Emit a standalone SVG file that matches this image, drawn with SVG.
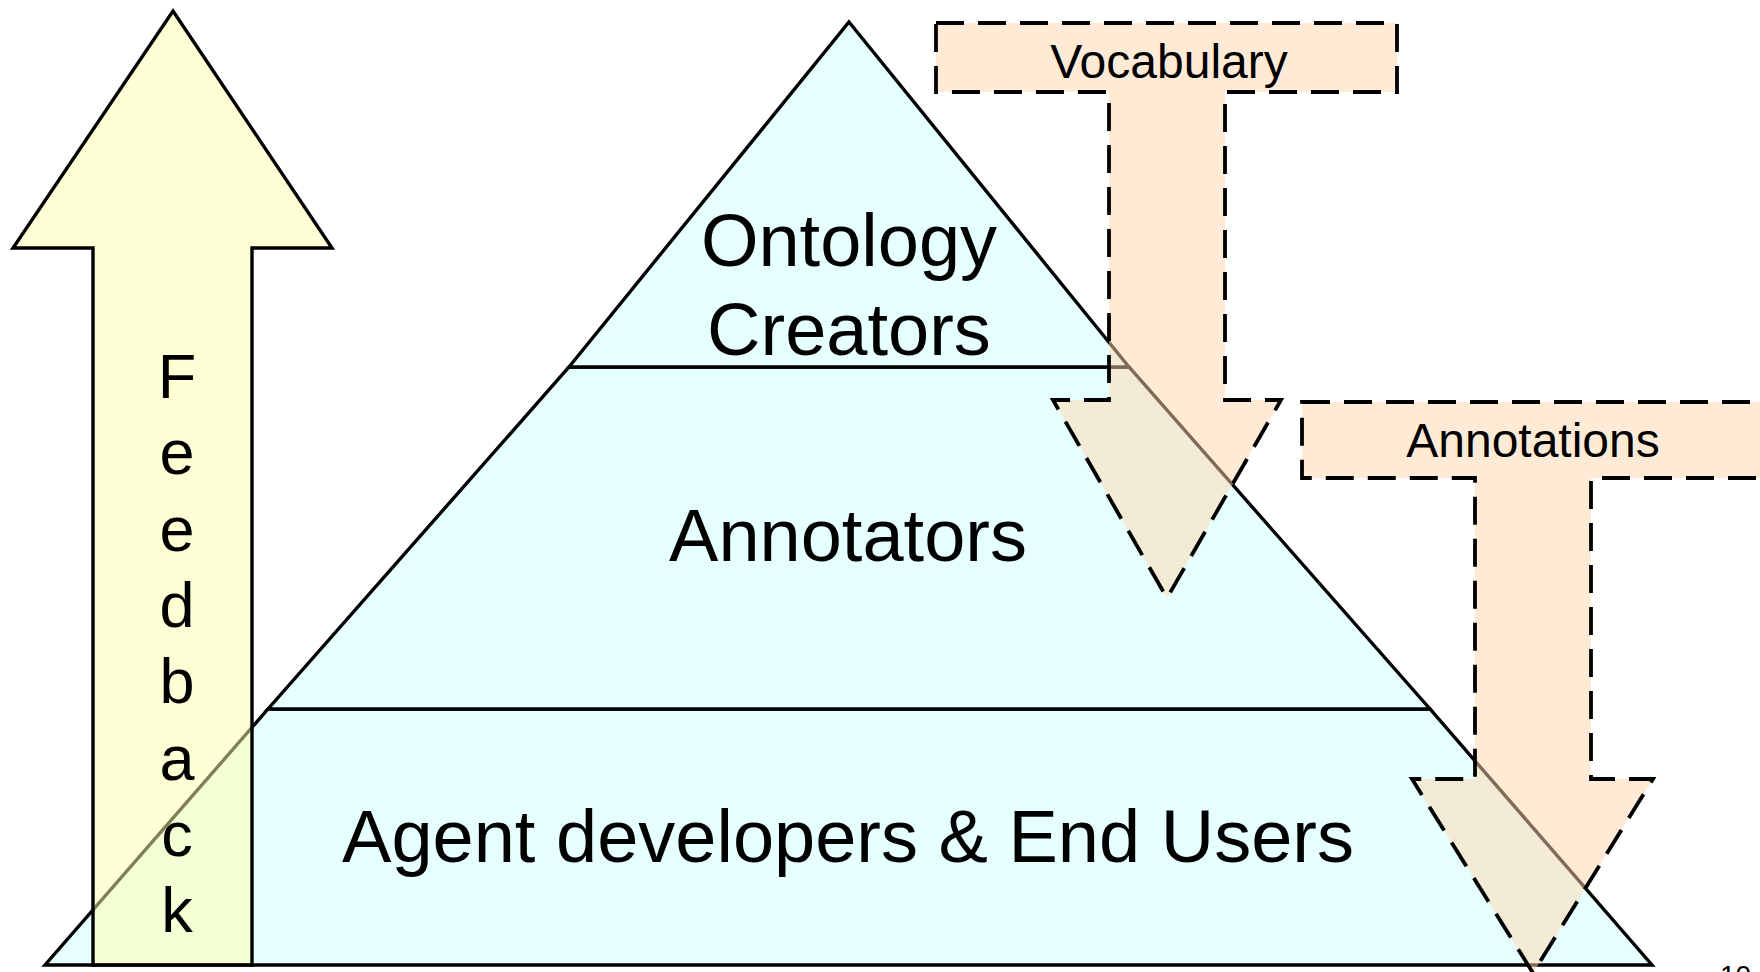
<svg xmlns="http://www.w3.org/2000/svg" width="1760" height="972" viewBox="0 0 1760 972">
  <style>
    .tier { fill: #E6FFFF; stroke: #000; stroke-width: 3.4; stroke-linejoin: miter; }
    .feedback { fill: #FFFFAB; fill-opacity: 0.5; stroke: #000; stroke-width: 3.4; }
    .flow { fill: #FFD7AB; fill-opacity: 0.5; stroke: #000; stroke-width: 3.8; stroke-dasharray: 28 14; }
    .big { font-family: "Liberation Sans", Arial, sans-serif; font-size: 74px; fill: #000; text-anchor: middle; }
    .letter { font-family: "Liberation Sans", Arial, sans-serif; font-size: 63px; fill: #000; text-anchor: middle; }
    .small { font-family: "Liberation Sans", Arial, sans-serif; font-size: 48px; fill: #000; text-anchor: middle; }
    .page { font-family: "Liberation Sans", Arial, sans-serif; font-size: 28px; fill: #000; }
  </style>
  <rect width="1760" height="972" fill="#fff"/>

  <!-- pyramid tiers -->
  <g id="tier-users">
    <polygon class="tier" points="268,709 1430,709 1652,965 45,965"/>
    <text class="big" x="848" y="862">Agent developers &amp; End Users</text>
  </g>
  <g id="tier-annotators">
    <polygon class="tier" points="569,367 1129,367 1430,709 268,709"/>
    <text class="big" x="848" y="561">Annotators</text>
  </g>
  <g id="tier-creators">
    <polygon class="tier" points="849,22 1129,367 569,367"/>
    <text class="big" x="849" y="266">Ontology</text>
    <text class="big" x="849" y="355">Creators</text>
  </g>

  <!-- flows between tiers -->
  <g id="connectors">
    <g id="feedback">
      <polygon class="feedback" points="173,11 332,248 252,248 252,965 93,965 93,248 13,248"/>
      <text class="letter" x="177" y="398">F</text>
      <text class="letter" x="177" y="474">e</text>
      <text class="letter" x="177" y="551">e</text>
      <text class="letter" x="177" y="627">d</text>
      <text class="letter" x="177" y="703">b</text>
      <text class="letter" x="177" y="780">a</text>
      <text class="letter" x="177" y="856">c</text>
      <text class="letter" x="177" y="932">k</text>
    </g>
    <g id="vocabulary">
      <path class="flow" d="M936,23 H1397 V92 H1225 V400 H1281 L1167,598 L1053,400 H1109 V92 H936 Z"/>
      <text class="small" x="1169" y="78">Vocabulary</text>
    </g>
    <g id="annotations">
      <path class="flow" d="M1302,402 H1764 V478 H1591 V779 H1653 L1533,973 L1412,779 H1475 V478 H1302 Z"/>
      <text class="small" x="1533" y="457">Annotations</text>
    </g>
  </g>

  <!-- slide number, sitting on the lower edge -->
  <text class="page" x="1720" y="985">10</text>
</svg>
